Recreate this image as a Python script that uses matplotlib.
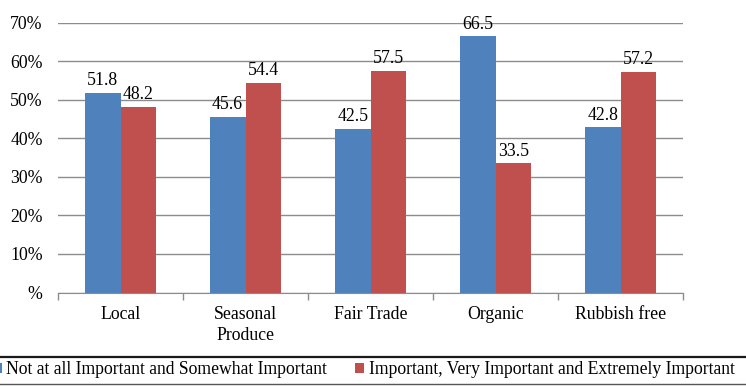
import numpy as np
import matplotlib.pyplot as plt
from matplotlib.lines import Line2D
from matplotlib.ticker import FuncFormatter

plt.rcParams['font.family'] = ['Liberation Serif', 'DejaVu Serif']

categories = ["Local", "Seasonal\nProduce", "Fair Trade", "Organic", "Rubbish free"]
not_important = [51.8, 45.6, 42.5, 66.5, 42.8]
important = [48.2, 54.4, 57.5, 33.5, 57.2]
series_names = ["Not at all Important and Somewhat Important",
                "Important, Very Important and Extremely Important"]

blue = "#4F81BD"
red = "#C0504D"
grid_col = "#8C8C8C"
fs = 12.8

W, H = 746, 386
fig = plt.figure(figsize=(W / 100, H / 100), dpi=100)
ax = fig.add_axes([58 / W, 1 - 292.5 / H, 625 / W, 270 / H])

x = np.arange(len(categories))
w = 0.285
b1 = ax.bar(x - w / 2, not_important, w, color=blue, label=series_names[0])
b2 = ax.bar(x + w / 2, important, w, color=red, label=series_names[1])

for bars, vals in ((b1, not_important), (b2, important)):
    for bar, v in zip(bars, vals):
        ax.annotate(f"{v:.1f}", (bar.get_x() + bar.get_width() / 2, v),
                    xytext=(0, 2.5), textcoords="offset points",
                    ha="center", va="bottom", fontsize=fs)

ax.set_xlim(-0.5, len(categories) - 0.5)
ax.set_ylim(0, 70)
ax.set_yticks(np.arange(0, 71, 10))
ax.yaxis.set_major_formatter(FuncFormatter(lambda v, p: "%" if v == 0 else f"{v:.0f}%"))
ax.yaxis.grid(True, color=grid_col, linewidth=1)
ax.set_axisbelow(True)

ax.set_xticks(x)
ax.set_xticklabels(categories, fontsize=fs, linespacing=1.3)
ax.set_xticks(np.arange(-0.5, len(categories), 1), minor=True)
ax.tick_params(axis="x", which="major", length=0, pad=10)
ax.tick_params(axis="x", which="minor", length=5, color=grid_col, width=1)
ax.tick_params(axis="y", length=0, pad=11, labelsize=fs)

for s in ("top", "right", "left"):
    ax.spines[s].set_visible(False)
ax.spines["bottom"].set_color(grid_col)

# legend box runs past both figure edges: draw its top and bottom rules
fig.add_artist(Line2D([0, 1], [1 - 357 / H] * 2, color="#1a1a1a", linewidth=1.6))
fig.add_artist(Line2D([0, 1], [1 - 384 / H] * 2, color="#555555", linewidth=1.0))

fig.legend(loc="center left", bbox_to_anchor=(-7 / W, 1 - 369.5 / H), ncol=2,
           fontsize=12.7, frameon=False,
           handlelength=0.5, handleheight=0.5, handletextpad=0.25,
           columnspacing=1.6, borderpad=0, borderaxespad=0)

fig.savefig("out.png", dpi=100)
